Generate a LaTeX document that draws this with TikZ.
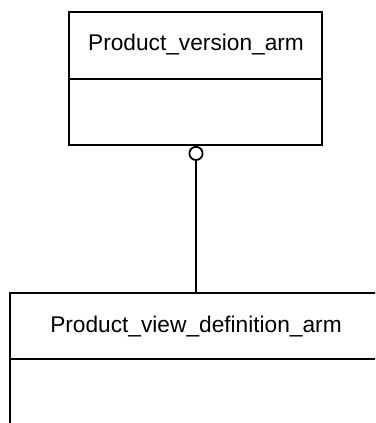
\documentclass[tikz,border=0pt]{standalone}
\usepackage{fontspec}
\setmainfont{Liberation Sans}
\usetikzlibrary{arrows.meta}
\newcommand\boxColor{black}
\newcommand\boxLineWidth{1.8pt}
\newcommand\nameFontSize{\fontsize{22.7}{26}\selectfont}

\begin{document}
\begin{tikzpicture}[x=1pt,y=-1pt]

    \useasboundingbox (0,0) rectangle (375,423);
    \clip (0,0) rectangle (375,423);

    \node (versionBox) [draw=\boxColor, line width=\boxLineWidth, shape=rectangle, minimum width=253pt, minimum height=133pt, anchor=center, inner sep=0pt] at (195.5,78.5) {};
    \node (versionName) [font=\nameFontSize, anchor=center] at (196,45) {Product\_version\_arm};
    \draw [draw=\boxColor, line width=\boxLineWidth] (69,79) -- (322,79);

%Part Two
    \node (viewBox) [draw=\boxColor, line width=\boxLineWidth, shape=rectangle, minimum width=380pt, minimum height=147pt, anchor=center, inner sep=0pt] at (200,366.5) {};
    \node (viewName) [font=\nameFontSize, anchor=center] at (196,327) {Product\_view\_definition\_arm};
    \draw [draw=\boxColor, line width=\boxLineWidth] (10,359) -- (390,359);

%    connector
    \draw [{Circle[open,length=15pt,width=15pt]}-][draw=\boxColor, line width=\boxLineWidth] (versionBox.south -| versionName) -- (viewBox.north -| versionName);

\end{tikzpicture}
\end{document}
